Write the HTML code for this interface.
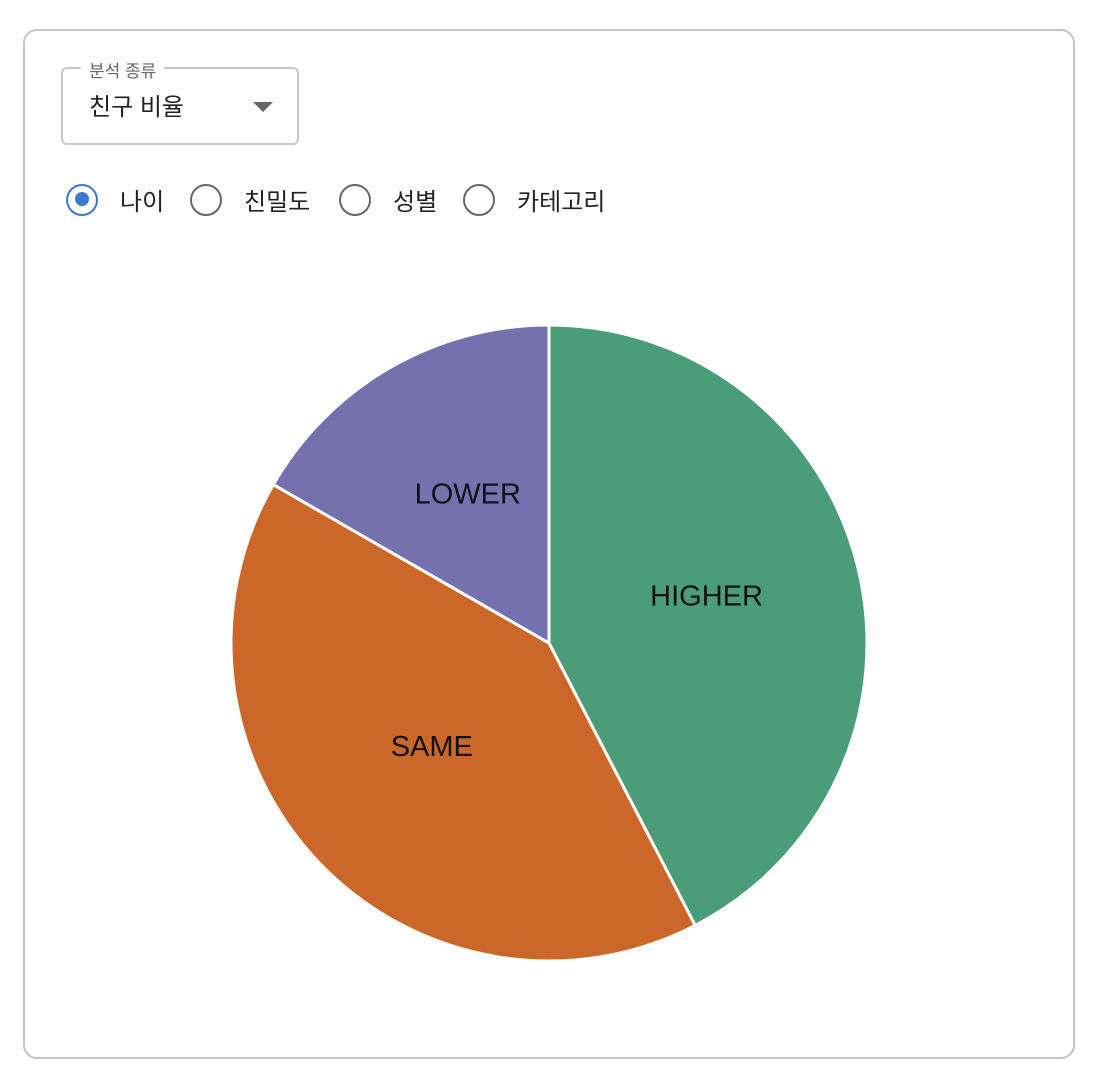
<!DOCTYPE html>
<html><head><meta charset="utf-8">
<style>
body{margin:0;width:1096px;height:1072px;background:#fff;font-family:"Liberation Sans","Noto Sans CJK KR",sans-serif;position:relative;overflow:hidden}
.card{position:absolute;left:23px;top:29px;width:1052px;height:1030px;border:2px solid #c4c4cc;border-radius:14px;box-sizing:border-box}
.sel{position:absolute;left:61px;top:67px;width:238px;height:78px;border:2px solid #c8c8c8;border-radius:6px;box-sizing:border-box}
.sel .lg{position:absolute;left:18px;top:-12px;background:#fff;padding:0 8px;font-size:17px;color:#666}
.sel .val{position:absolute;left:26px;top:18px;font-size:24px;color:#222}
.sel .arr{position:absolute;left:190px;top:33px;width:0;height:0;border-left:10px solid transparent;border-right:10px solid transparent;border-top:10px solid #666}
.radio{position:absolute;top:182px;display:flex;align-items:center;font-size:24px;color:#222}
.rc{width:32px;height:32px;border:2.5px solid #666;border-radius:50%;box-sizing:border-box;margin-right:22px;position:relative}
.rc.on{border-color:#3b78d0}
.rc.on::after{content:"";position:absolute;left:6.5px;top:6.5px;width:14px;height:14px;border-radius:50%;background:#3b78d0}
</style></head><body>
<div class="card"></div>
<div class="sel">
<span class="lg">분석 종류</span>
<span class="val">친구 비율</span>
<span class="arr"></span></div>
<div class="radio" style="left:66px"><span class="rc on"></span>나이</div>
<div class="radio" style="left:190px"><span class="rc"></span>친밀도</div>
<div class="radio" style="left:339px"><span class="rc"></span>성별</div>
<div class="radio" style="left:463px"><span class="rc"></span>카테고리</div>
<svg id="pie" width="1096" height="1072" style="position:absolute;left:0;top:0"></svg>
<script>
const categories=["HIGHER","SAME","LOWER"];
const values=[42.4,40.9,16.7];
const colors=["#4b9c78","#cb6728","#7570ae"];
const cx=549,cy=643,r=318;
const svg=document.getElementById('pie');
const NS="http://www.w3.org/2000/svg";
const total=values.reduce((a,b)=>a+b,0);
let a0=0;
function pt(a,rr){return [cx+rr*Math.sin(a),cy-rr*Math.cos(a)];}
values.forEach((v,i)=>{
 const a1=a0+v/total*2*Math.PI;
 const p0=pt(a0,r),p1=pt(a1,r);
 const large=(a1-a0)>Math.PI?1:0;
 const path=document.createElementNS(NS,'path');
 path.setAttribute('d',`M${cx},${cy}L${p0[0]},${p0[1]}A${r},${r} 0 ${large} 1 ${p1[0]},${p1[1]}Z`);
 path.setAttribute('fill',colors[i]);path.setAttribute('stroke','#fff');path.setAttribute('stroke-width','3');
 
 
 svg.appendChild(path);
 const m=(a0+a1)/2,lp=pt(m,r*0.51);
 const t=document.createElementNS(NS,'text');
 t.setAttribute('x',lp[0]);t.setAttribute('y',lp[1]+1);t.setAttribute('text-anchor','middle');
 t.setAttribute('font-size','29');t.setAttribute('font-family','Liberation Sans, sans-serif');t.setAttribute('fill','#111');
 t.textContent=categories[i];
 
 
 svg.appendChild(t);
 a0=a1;
});
</script>
</body></html>
